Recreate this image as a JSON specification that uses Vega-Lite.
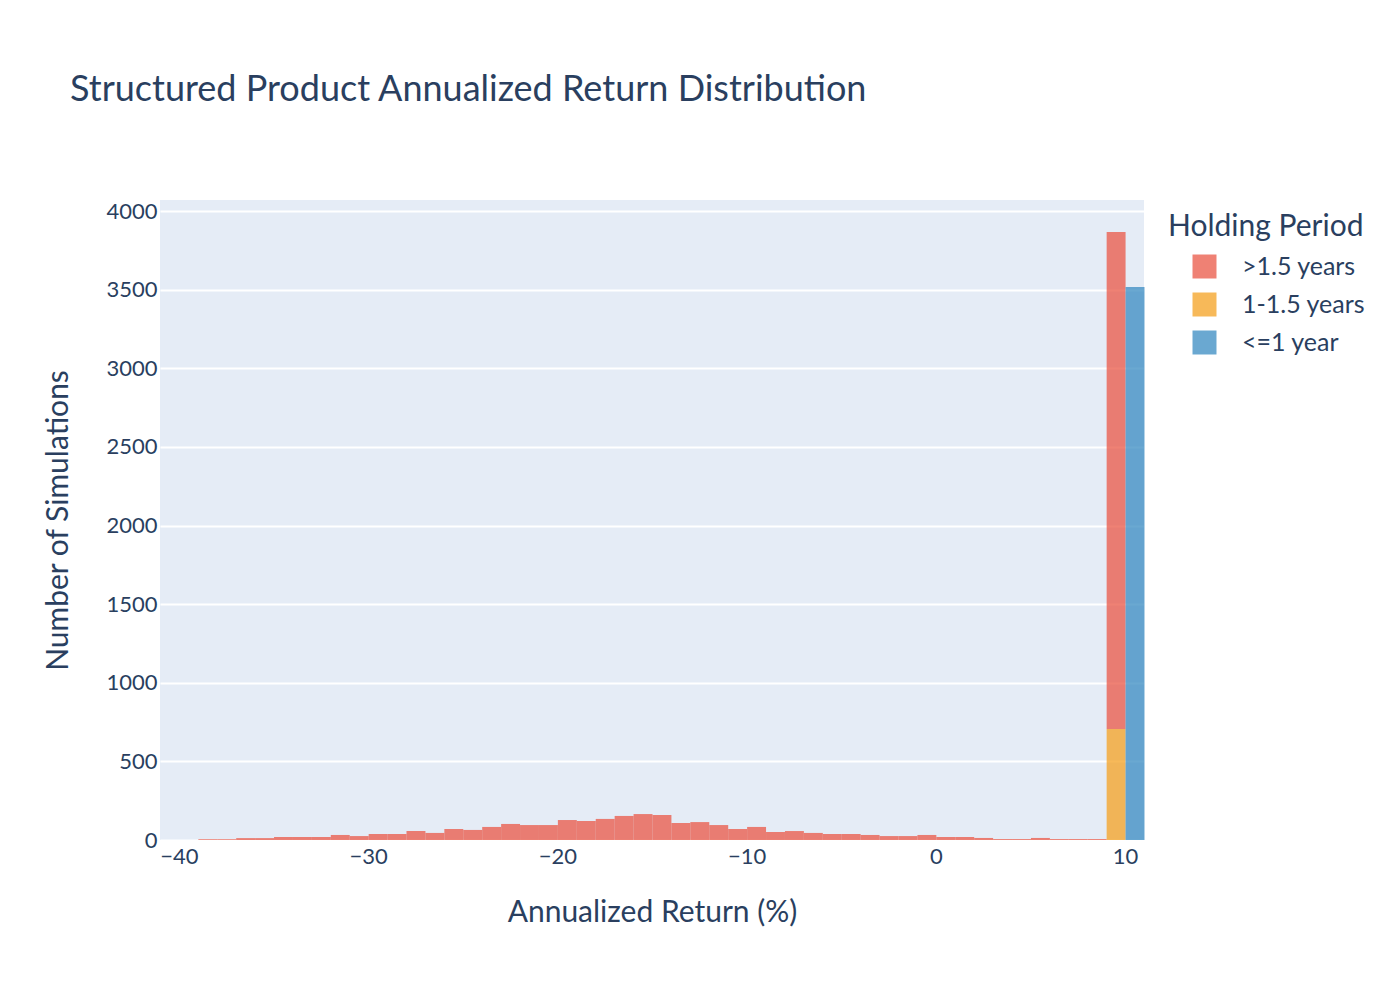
{
  "$schema": "https://vega.github.io/schema/vega-lite/v6.json",
  "width": 984,
  "height": 640,
  "autosize": {"type": "none"},
  "padding": {"left": 160, "top": 200, "right": 256, "bottom": 160},
  "background": "white",
  "config": {
    "font": "Lato",
    "view": {"fill": "#E5ECF6", "stroke": null},
    "axis": {"labelColor": "#2a3f5f", "titleColor": "#2a3f5f", "labelFont": "Lato", "titleFont": "Lato", "titleFontWeight": "normal", "domain": false, "ticks": false, "gridColor": "white", "gridWidth": 2}
  },
  "title": {
    "text": "Structured Product Annualized Return Distribution",
    "anchor": "start",
    "frame": "group",
    "dx": -90,
    "offset": 91,
    "fontSize": 36,
    "fontWeight": "normal",
    "color": "#2a3f5f",
    "font": "Lato"
  },
  "data": {
    "values": [
      {"start": -39, "end": -38, "period": ">1.5 years", "rank": 2, "count": 5},
      {"start": -38, "end": -37, "period": ">1.5 years", "rank": 2, "count": 5},
      {"start": -37, "end": -36, "period": ">1.5 years", "rank": 2, "count": 12},
      {"start": -36, "end": -35, "period": ">1.5 years", "rank": 2, "count": 12},
      {"start": -35, "end": -34, "period": ">1.5 years", "rank": 2, "count": 19},
      {"start": -34, "end": -33, "period": ">1.5 years", "rank": 2, "count": 19},
      {"start": -33, "end": -32, "period": ">1.5 years", "rank": 2, "count": 19},
      {"start": -32, "end": -31, "period": ">1.5 years", "rank": 2, "count": 32},
      {"start": -31, "end": -30, "period": ">1.5 years", "rank": 2, "count": 25},
      {"start": -30, "end": -29, "period": ">1.5 years", "rank": 2, "count": 38},
      {"start": -29, "end": -28, "period": ">1.5 years", "rank": 2, "count": 38},
      {"start": -28, "end": -27, "period": ">1.5 years", "rank": 2, "count": 57},
      {"start": -27, "end": -26, "period": ">1.5 years", "rank": 2, "count": 45},
      {"start": -26, "end": -25, "period": ">1.5 years", "rank": 2, "count": 70},
      {"start": -25, "end": -24, "period": ">1.5 years", "rank": 2, "count": 64},
      {"start": -24, "end": -23, "period": ">1.5 years", "rank": 2, "count": 83},
      {"start": -23, "end": -22, "period": ">1.5 years", "rank": 2, "count": 102},
      {"start": -22, "end": -21, "period": ">1.5 years", "rank": 2, "count": 95},
      {"start": -21, "end": -20, "period": ">1.5 years", "rank": 2, "count": 95},
      {"start": -20, "end": -19, "period": ">1.5 years", "rank": 2, "count": 127},
      {"start": -19, "end": -18, "period": ">1.5 years", "rank": 2, "count": 121},
      {"start": -18, "end": -17, "period": ">1.5 years", "rank": 2, "count": 134},
      {"start": -17, "end": -16, "period": ">1.5 years", "rank": 2, "count": 153},
      {"start": -16, "end": -15, "period": ">1.5 years", "rank": 2, "count": 165},
      {"start": -15, "end": -14, "period": ">1.5 years", "rank": 2, "count": 159},
      {"start": -14, "end": -13, "period": ">1.5 years", "rank": 2, "count": 108},
      {"start": -13, "end": -12, "period": ">1.5 years", "rank": 2, "count": 114},
      {"start": -12, "end": -11, "period": ">1.5 years", "rank": 2, "count": 95},
      {"start": -11, "end": -10, "period": ">1.5 years", "rank": 2, "count": 70},
      {"start": -10, "end": -9, "period": ">1.5 years", "rank": 2, "count": 83},
      {"start": -9, "end": -8, "period": ">1.5 years", "rank": 2, "count": 51},
      {"start": -8, "end": -7, "period": ">1.5 years", "rank": 2, "count": 57},
      {"start": -7, "end": -6, "period": ">1.5 years", "rank": 2, "count": 45},
      {"start": -6, "end": -5, "period": ">1.5 years", "rank": 2, "count": 38},
      {"start": -5, "end": -4, "period": ">1.5 years", "rank": 2, "count": 38},
      {"start": -4, "end": -3, "period": ">1.5 years", "rank": 2, "count": 32},
      {"start": -3, "end": -2, "period": ">1.5 years", "rank": 2, "count": 25},
      {"start": -2, "end": -1, "period": ">1.5 years", "rank": 2, "count": 25},
      {"start": -1, "end": 0, "period": ">1.5 years", "rank": 2, "count": 32},
      {"start": 0, "end": 1, "period": ">1.5 years", "rank": 2, "count": 19},
      {"start": 1, "end": 2, "period": ">1.5 years", "rank": 2, "count": 19},
      {"start": 2, "end": 3, "period": ">1.5 years", "rank": 2, "count": 13},
      {"start": 3, "end": 4, "period": ">1.5 years", "rank": 2, "count": 6},
      {"start": 4, "end": 5, "period": ">1.5 years", "rank": 2, "count": 6},
      {"start": 5, "end": 6, "period": ">1.5 years", "rank": 2, "count": 13},
      {"start": 6, "end": 7, "period": ">1.5 years", "rank": 2, "count": 6},
      {"start": 7, "end": 8, "period": ">1.5 years", "rank": 2, "count": 6},
      {"start": 8, "end": 9, "period": ">1.5 years", "rank": 2, "count": 6},
      {"start": 9, "end": 10, "period": ">1.5 years", "rank": 2, "count": 3160},
      {"start": 9, "end": 10, "period": "1-1.5 years", "rank": 1, "count": 706},
      {"start": 10, "end": 11, "period": "<=1 year", "rank": 0, "count": 3517}
    ]
  },
  "mark": {"type": "bar", "opacity": 0.75, "strokeWidth": 0, "binSpacing": 0},
  "encoding": {
    "x": {
      "field": "start",
      "type": "quantitative",
      "bin": {"binned": true, "step": 1},
      "scale": {"domain": [-41, 11], "nice": false, "zero": false},
      "axis": {"values": [-40, -30, -20, -10, 0, 10], "grid": false, "labelFontSize": 22, "labelPadding": 6, "title": "Annualized Return (%)", "titleFontSize": 30, "titlePadding": 30}
    },
    "x2": {"field": "end"},
    "y": {
      "field": "count",
      "type": "quantitative",
      "stack": "zero",
      "scale": {"domain": [0, 4070], "nice": false},
      "axis": {"values": [0, 500, 1000, 1500, 2000, 2500, 3000, 3500, 4000], "format": "d", "labelFontSize": 22, "labelPadding": 3, "title": "Number of Simulations", "titleFontSize": 30, "titlePadding": 32}
    },
    "color": {
      "field": "period",
      "type": "nominal",
      "sort": [">1.5 years", "1-1.5 years", "<=1 year"],
      "scale": {"domain": [">1.5 years", "1-1.5 years", "<=1 year"], "range": ["#EA5746", "#F4A122", "#388BC2"]},
      "legend": {
        "title": "Holding Period",
        "orient": "none",
        "legendX": 1008,
        "legendY": 12,
        "titleFontSize": 30,
        "titleFontWeight": "normal",
        "titleColor": "#2a3f5f",
        "titleLimit": 400,
        "labelLimit": 300,
        "titlePadding": 12,
        "labelFontSize": 25,
        "labelColor": "#2a3f5f",
        "labelOffset": 25,
        "symbolType": "square",
        "symbolSize": 576,
        "symbolOpacity": 0.75,
        "symbolStrokeWidth": 0,
        "symbolOffset": 24,
        "rowPadding": 12,
        "padding": 0
      }
    },
    "order": {"field": "rank", "type": "quantitative", "sort": "ascending"}
  }
}
